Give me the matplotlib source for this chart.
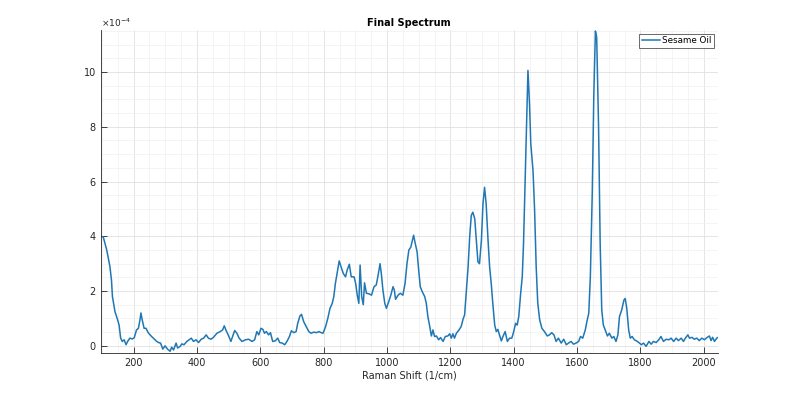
import matplotlib
matplotlib.use("Agg")
import matplotlib.pyplot as plt
from matplotlib.ticker import MultipleLocator, FuncFormatter
import numpy as np

# Raman shift (1/cm) and intensity (x1e-4)
shift = [96, 104, 115, 120, 125, 130, 133, 141, 148, 154, 159, 164, 170, 176, 181, 188, 196,
         202, 209, 215, 220, 223, 227, 233, 239, 246, 255, 262, 271, 278, 285, 292, 299,
         307, 315, 320, 326, 334, 339, 347, 352, 359, 368, 375, 382, 389, 397, 405, 413,
         421, 429, 436, 444, 452, 463, 473, 481, 486, 492, 500, 507, 513, 519, 526, 533,
         542, 553, 563, 574, 582, 589, 595, 602, 608, 613, 619, 626, 632, 639, 647, 655,
         661, 669, 677, 684, 692, 698, 706, 713, 718, 725, 730, 737, 745, 753, 760, 769,
         777, 785, 792, 798, 806, 813, 820, 827, 832, 837, 843, 849, 855, 862, 869, 874,
         881, 887, 896, 901, 906, 911, 915, 920, 925, 929, 935, 943, 951, 959, 966, 971,
         978, 982, 987, 993, 998, 1005, 1012, 1019, 1023, 1027, 1035, 1042, 1050, 1057,
         1063, 1069, 1075, 1080, 1084, 1088, 1095, 1100, 1105, 1111, 1119, 1124, 1129,
         1135, 1140, 1145, 1150, 1156, 1163, 1169, 1177, 1184, 1192, 1198, 1203, 1208,
         1213, 1219, 1226, 1234, 1240, 1245, 1250, 1256, 1261, 1266, 1271, 1277, 1282,
         1287, 1292, 1298, 1303, 1308, 1313, 1319, 1324, 1329, 1334, 1340, 1345, 1350,
         1355, 1361, 1366, 1373, 1380, 1387, 1394, 1400, 1406, 1411, 1416, 1422, 1427,
         1431, 1435, 1440, 1445, 1450, 1454, 1461, 1466, 1471, 1476, 1482, 1489, 1497,
         1506, 1513, 1520, 1527, 1534, 1541, 1550, 1558, 1566, 1573, 1581, 1589, 1597,
         1605, 1611, 1618, 1626, 1631, 1637, 1642, 1648, 1653, 1658, 1662, 1668, 1673,
         1678, 1683, 1689, 1696, 1702, 1710, 1716, 1723, 1729, 1734, 1741, 1748, 1752,
         1757, 1763, 1768, 1774, 1781, 1788, 1797, 1803, 1810, 1818, 1827, 1834, 1841,
         1850, 1858, 1865, 1873, 1881, 1890, 1897, 1905, 1913, 1920, 1929, 1936, 1942,
         1950, 1955, 1963, 1970, 1978, 1986, 1994, 2002, 2010, 2018, 2023, 2028, 2034, 2041, 2044]
intensity = [4.0, 3.98, 3.5, 3.2, 2.9, 2.4, 1.8, 1.25, 1.0, 0.76, 0.28, 0.16, 0.22, 0.04, 0.16, 0.28, 0.25,
             0.3, 0.58, 0.64, 0.95, 1.2, 0.95, 0.64, 0.64, 0.48, 0.36, 0.28, 0.18, 0.12, 0.1, -0.12, 0.0,
             -0.12, -0.2, -0.05, -0.15, 0.1, -0.08, -0.02, 0.07, 0.04, 0.16, 0.22, 0.28, 0.16, 0.22, 0.12, 0.24,
             0.28, 0.4, 0.28, 0.24, 0.31, 0.46, 0.52, 0.58, 0.73, 0.56, 0.36, 0.16, 0.36, 0.56, 0.46, 0.28,
             0.16, 0.22, 0.24, 0.16, 0.22, 0.52, 0.4, 0.64, 0.6, 0.46, 0.52, 0.4, 0.48, 0.16, 0.18, 0.28,
             0.12, 0.1, 0.04, 0.16, 0.34, 0.55, 0.48, 0.52, 0.82, 1.09, 1.15, 0.88, 0.7, 0.52, 0.46, 0.5,
             0.48, 0.52, 0.48, 0.46, 0.7, 1.0, 1.37, 1.55, 1.8, 2.28, 2.7, 3.1, 2.88, 2.64, 2.52, 2.76,
             2.98, 2.52, 2.52, 2.28, 1.85, 1.55, 2.95, 1.8, 1.5, 2.3, 1.92, 1.9, 1.85, 2.16, 2.22, 2.52,
             3.0, 2.64, 2.04, 1.55, 1.37, 1.6, 1.85, 2.16, 2.04, 1.7, 1.85, 1.92, 1.85, 2.28,
             3.0, 3.5, 3.6, 3.85, 4.04, 3.8, 3.43, 2.76, 2.16, 1.98, 1.8, 1.55, 1.07,
             0.7, 0.36, 0.58, 0.34, 0.36, 0.22, 0.3, 0.16, 0.34, 0.36, 0.44, 0.28, 0.44,
             0.28, 0.46, 0.56, 0.7, 0.97, 1.13, 1.92, 2.88, 3.98, 4.76, 4.88, 4.64, 3.85,
             3.07, 3.0, 3.85, 5.19, 5.79, 5.19, 3.85, 2.88, 2.28, 1.55, 0.76, 0.52, 0.6,
             0.4, 0.18, 0.34, 0.52, 0.16, 0.28, 0.28, 0.52, 0.82, 0.76, 1.07, 1.92, 2.52,
             3.73, 5.55, 7.98, 10.06, 8.82, 7.37, 6.4, 4.95, 2.88, 1.55, 0.95, 0.64, 0.52,
             0.36, 0.4, 0.48, 0.4, 0.16, 0.28, 0.1, 0.24, 0.04, 0.1, 0.16, 0.06, 0.1,
             0.16, 0.34, 0.28, 0.58, 0.88, 1.19, 2.52, 5.55, 9.19, 11.5, 11.27, 7.98, 3.73,
             1.31, 0.76, 0.58, 0.36, 0.46, 0.28, 0.34, 0.16, 0.4, 1.07, 1.31, 1.67, 1.73,
             1.37, 0.58, 0.28, 0.34, 0.22, 0.18, 0.1, 0.04, 0.1, -0.02, 0.16, 0.06, 0.16,
             0.12, 0.22, 0.34, 0.16, 0.24, 0.22, 0.28, 0.16, 0.28, 0.19, 0.28, 0.16, 0.28,
             0.4, 0.28, 0.31, 0.24, 0.28, 0.19, 0.28, 0.22, 0.3, 0.36, 0.19, 0.31, 0.16, 0.28, 0.3]

series_label = "Sesame Oil"
title = "Final Spectrum"
xlabel = "Raman Shift (1/cm)"
x_ticks = [200, 400, 600, 800, 1000, 1200, 1400, 1600, 1800, 2000]
y_ticks = [0, 2, 4, 6, 8, 10]

plt.rcParams['font.family'] = ['DejaVu Sans']
fig = plt.figure(figsize=(7.93, 3.97), dpi=100)
ax = fig.add_axes([0.127, 0.111, 0.778, 0.813])

x = np.array(shift)
y = np.array(intensity) * 1e-4
ax.plot(x, y, color='#1f77b4', lw=1.1, label=series_label)

ax.set_xlim(96, 2044)
ax.set_ylim(-0.26e-4, 11.53e-4)
ax.set_xticks(x_ticks)
ax.set_yticks([v * 1e-4 for v in y_ticks])
ax.yaxis.set_major_formatter(FuncFormatter(lambda v, p: f"{v*1e4:.0f}"))
ax.xaxis.set_minor_locator(MultipleLocator(50))
ax.yaxis.set_minor_locator(MultipleLocator(0.5e-4))

ax.grid(which='major', color='#e0e0e0', lw=0.6)
ax.grid(which='minor', color='#f0f0f0', lw=0.5)
ax.set_axisbelow(True)

for s in ['top', 'right']:
    ax.spines[s].set_visible(False)
for s in ['left', 'bottom']:
    ax.spines[s].set_color('#262626')
    ax.spines[s].set_linewidth(0.6)
ax.tick_params(which='major', direction='in', length=4, width=0.6, colors='#262626',
               labelsize=7, labelcolor='#262626')
ax.tick_params(which='minor', length=0)

ax.text(0.0, 1.005, r'$\times10^{-4}$', transform=ax.transAxes, fontsize=6.5,
        color='#262626', ha='left', va='bottom')
ax.set_title(title, fontsize=7, fontweight='bold', pad=3)
ax.set_xlabel(xlabel, fontsize=7, color='#262626', labelpad=2)

leg = ax.legend(loc='upper right', fontsize=6.3, frameon=True, fancybox=False,
                borderpad=0.3, handlelength=2.0, handletextpad=0.3, borderaxespad=0.4)
leg.get_frame().set_edgecolor('#262626')
leg.get_frame().set_linewidth(0.6)

fig.savefig("out.png", dpi=100)
